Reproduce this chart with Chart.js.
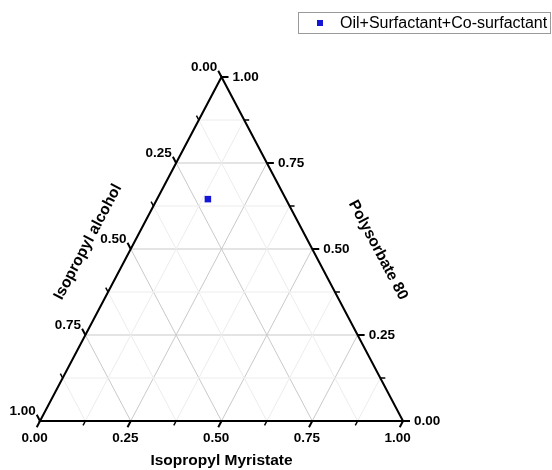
<!DOCTYPE html>
<html>
<head>
<meta charset="utf-8">
<script src="https://cdn.jsdelivr.net/npm/chart.js@4/dist/chart.umd.min.js"></script>
<style>
	html, body { margin: 0; padding: 0; background: #fff; }
	#wrap { width: 552px; height: 470px; }
</style>
</head>
<body>
<div id="wrap"><canvas id="graficoTernario"></canvas></div>
<script>
// composition of the formulation (fractions)
var oil = [0.14];           // Isopropyl Myristate
var surfactant = [0.645];   // Polysorbate 80
var cosurfactant = [0.215]; // Isopropyl alcohol

var serieLabel = 'Oil+Surfactant+Co-surfactant';
var majorTicks = [0, 0.25, 0.5, 0.75, 1];
var tickLabels = ['0.00', '0.25', '0.50', '0.75', '1.00'];
var minorTicks = [0.125, 0.375, 0.625, 0.875];

var bottomTitle = 'Isopropyl Myristate';
var leftTitle = 'Isopropyl alcohol';
var rightTitle = 'Polysorbate 80';

// m = myristate (1 at bottom-right), p = polysorbate (1 at top), alcohol = rest (1 at bottom-left)
function toCart(m, p) {
	return { x: m + p / 2, y: p };
}

var pontos = oil.map(function(m, i) {
	return toCart(m, surfactant[i]);
});

var Ternario = {
	id: 'ternario',
	beforeDatasetsDraw: function(chart) {
		var ctx = chart.ctx;
		var sx = chart.scales.x, sy = chart.scales.y;
		function px(m, p) {
			var c = toCart(m, p);
			return { x: sx.getPixelForValue(c.x), y: sy.getPixelForValue(c.y) };
		}
		function line(a, b) {
			ctx.beginPath();
			ctx.moveTo(a.x, a.y);
			ctx.lineTo(b.x, b.y);
			ctx.stroke();
		}
		var L = px(0, 0), R = px(1, 0), T = px(0, 1);
		var len = Math.hypot(L.x - T.x, L.y - T.y);
		var dirBottom = { x: (L.x - T.x) / len, y: (L.y - T.y) / len };
		var dirLeft = { x: (T.x - R.x) / len, y: (T.y - R.y) / len };
		var dirRight = { x: 1, y: 0 };

		ctx.save();
		ctx.lineWidth = 1;
		// grid
		majorTicks.concat(minorTicks).forEach(function(v) {
			if (v <= 0 || v >= 1) return;
			ctx.strokeStyle = minorTicks.indexOf(v) >= 0 ? '#ececec' : '#c9c9c9';
			line(px(0, v), px(1 - v, v));     // polysorbate
			line(px(v, 0), px(v, 1 - v));     // myristate
			line(px(0, 1 - v), px(1 - v, 0)); // alcohol
		});

		// frame
		ctx.strokeStyle = '#000';
		ctx.lineWidth = 2;
		ctx.beginPath();
		ctx.moveTo(L.x, L.y);
		ctx.lineTo(R.x, R.y);
		ctx.lineTo(T.x, T.y);
		ctx.closePath();
		ctx.stroke();

		// ticks and labels
		function tick(p0, dir, size) {
			var e = { x: p0.x + dir.x * size, y: p0.y + dir.y * size };
			line(p0, e);
			return e;
		}
		ctx.lineWidth = 1.5;
		minorTicks.forEach(function(v) {
			tick(px(v, 0), dirBottom, 5);
			tick(px(1 - v, v), dirRight, 5);
			tick(px(0, 1 - v), dirLeft, 5);
		});
		ctx.lineWidth = 2;
		ctx.fillStyle = '#000';
		ctx.font = 'bold 13.5px "Liberation Sans", Arial, sans-serif';
		majorTicks.forEach(function(v, i) {
			var e = tick(px(v, 0), dirBottom, 7);
			ctx.textAlign = 'center';
			ctx.textBaseline = 'top';
			ctx.fillText(tickLabels[i], e.x - 2, e.y + 4);

			e = tick(px(1 - v, v), dirRight, 7);
			ctx.textAlign = 'left';
			ctx.textBaseline = 'middle';
			ctx.fillText(tickLabels[i], e.x + 4, e.y);

			// alcohol v sits on the left edge at polysorbate 1-v
			e = tick(px(0, 1 - v), dirLeft, 7);
			ctx.textAlign = 'right';
			ctx.textBaseline = 'bottom';
			ctx.fillText(tickLabels[i], e.x - 1, e.y + 3);
		});

		// titles
		var ang = Math.atan2(T.y - L.y, T.x - L.x);
		ctx.font = 'bold 15.5px "Liberation Sans", Arial, sans-serif';
		ctx.textAlign = 'center';
		ctx.textBaseline = 'middle';
		ctx.fillText(bottomTitle, (L.x + R.x) / 2, 461);

		ctx.save();
		ctx.translate(88, 242);
		ctx.rotate(ang);
		ctx.fillText(leftTitle, 0, 0);
		ctx.restore();

		ctx.save();
		ctx.translate(378, 250);
		ctx.rotate(-ang);
		ctx.fillText(rightTitle, 0, 0);
		ctx.restore();
		ctx.restore();
	},
	afterDraw: function(chart) {
		var ctx = chart.ctx;
		var ds = chart.data.datasets[0];
		ctx.save();
		ctx.strokeStyle = '#9a9a9a';
		ctx.lineWidth = 1;
		ctx.strokeRect(298.5, 12.5, 252, 21);
		ctx.fillStyle = ds.backgroundColor;
		ctx.fillRect(317, 20, 6, 6);
		ctx.fillStyle = '#000';
		ctx.font = '16px "Liberation Sans", Arial, sans-serif';
		ctx.textAlign = 'left';
		ctx.textBaseline = 'middle';
		ctx.fillText(ds.label, 340, 23.5);
		ctx.restore();
	}
};

new Chart(document.getElementById('graficoTernario').getContext('2d'), {
	type: 'scatter',
	data: {
		datasets: [{
			label: serieLabel,
			data: pontos,
			pointStyle: 'rect',
			pointRadius: 4.6,
			backgroundColor: '#1515d6',
			borderColor: '#1515d6',
			borderWidth: 0
		}]
	},
	options: {
		responsive: true,
		maintainAspectRatio: false,
		animation: false,
		layout: { padding: { left: 40, right: 149, top: 77, bottom: 49 } },
		plugins: { legend: { display: false }, tooltip: { enabled: false } },
		scales: {
			x: { type: 'linear', min: 0, max: 1, display: false },
			y: { type: 'linear', min: 0, max: 1, display: false }
		}
	},
	plugins: [Ternario]
});
</script>
</body>
</html>
